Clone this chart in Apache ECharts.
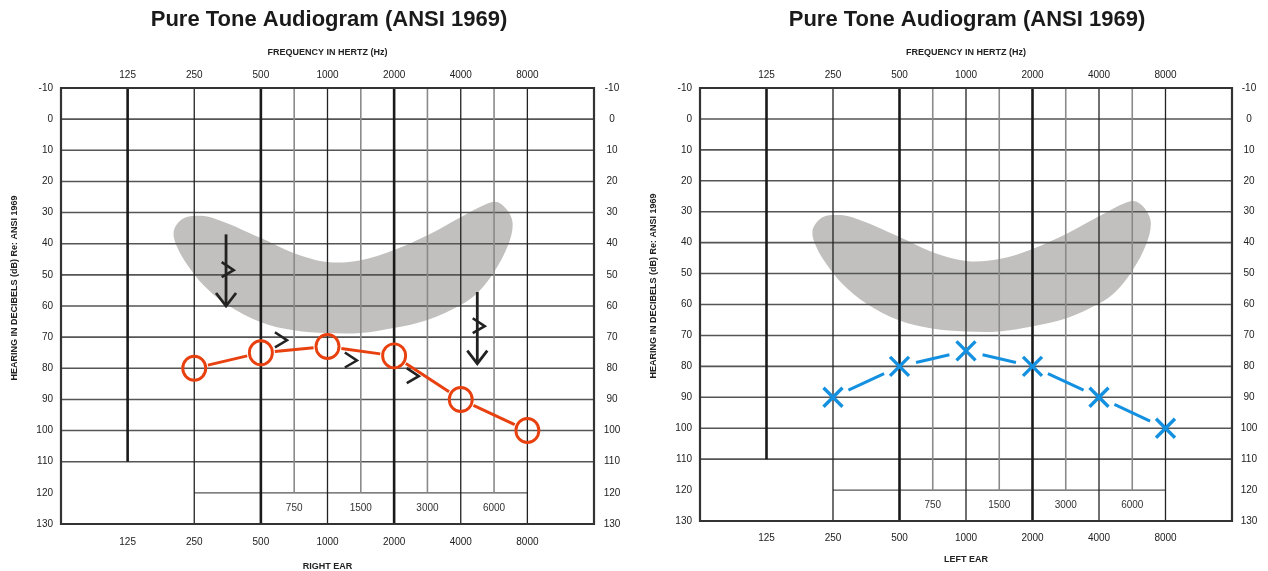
<!DOCTYPE html>
<html>
<head>
<meta charset="utf-8">
<script src="https://cdn.jsdelivr.net/npm/echarts@6/dist/echarts.min.js"></script>
<style>
html,body{margin:0;background:#fff}
#chart{width:1268px;height:571px}
</style>
</head>
<body>
<div id="chart"></div>
<script>
// axis structure
const freqs = [125, 250, 500, 1000, 2000, 4000, 8000];
const thickFreqs = [125, 500, 2000];
const halfFreqs = [750, 1500, 3000, 6000];
const dbTicks = [-10, 0, 10, 20, 30, 40, 50, 60, 70, 80, 90, 100, 110, 120, 130];

// right ear (air conduction, circles)
const rightFreqs = [250, 500, 1000, 2000, 4000, 8000];
const rightDb = [80, 75, 73, 76, 90, 100];
// left ear (air conduction, crosses)
const leftFreqs = [250, 500, 1000, 2000, 4000, 8000];
const leftDb = [90, 80, 75, 80, 90, 100];
// bone conduction ">" marks on the right ear chart
const boneFreqs = [354, 616, 1275, 2428, 4823];
const boneDb = [48.5, 71, 77.5, 82.5, 66.5];
// no response arrows
const arrowFreqs = [348, 4751];
const arrowTop = [37, 55.5];
const arrowBottom = [60, 78.5];

// speech banana outline (octaves above 125 Hz, dB)
const bananaOct = [0.69,0.80,0.99,1.29,2.00,2.49,3.00,3.50,3.99,4.50,5.00,5.41,5.56,5.72,5.78,5.71,5.50,5.26,5.00,4.50,3.99,3.50,3.00,2.49,2.00,1.50,1.14,0.90,0.75];
const bananaDb = [36.3,32.4,31.1,31.8,38.2,43.0,45.9,45.3,42.1,37.3,31.5,27.0,26.7,29.9,34.0,40.5,49.1,55.6,59.7,64.5,67.1,68.7,68.7,67.8,65.2,59.7,53.3,46.9,41.4];

const oct = f => Math.log2(f / 125);
// half octave lines sit midway between the octaves
const mid = f => oct(f / 1.5) + 0.5;

const FONT = '"Liberation Sans", Arial, sans-serif';
const RED = '#e8400e';
const BLUE = '#1490e0';

function seg(api, a, b, w, c) {
  const p = api.coord(a), q = api.coord(b);
  return {type: 'line', shape: {x1: p[0], y1: p[1], x2: q[0], y2: q[1]}, style: {stroke: c, lineWidth: w}};
}

function renderBanana(params, api) {
  const pts = bananaOct.map((o, i) => api.coord([o, bananaDb[i]]));
  return {type: 'polygon', shape: {points: pts, smooth: 0.35}, style: {fill: '#c1c0be'}};
}

function renderGrid(params, api) {
  const ch = [];
  dbTicks.forEach(d => {
    if (d > -10 && d <= 110) ch.push(seg(api, [-1, d], [7, d], 1.6, '#555'));
  });
  ch.push(seg(api, [oct(250), 120], [oct(8000), 120], 1.3, '#555'));
  halfFreqs.forEach(f => {
    ch.push(seg(api, [mid(f), -10], [mid(f), 120], 1.6, '#8a8a8a'));
    const p = api.coord([mid(f), 125]);
    ch.push({type: 'text', x: p[0], y: p[1], style: {text: String(f), textAlign: 'center', textVerticalAlign: 'middle', align: 'center', verticalAlign: 'middle', fontSize: 10, fontFamily: FONT, fill: '#333'}});
  });
  freqs.forEach(f => {
    const thick = thickFreqs.indexOf(f) >= 0;
    const bottom = f === 125 ? 110 : 130;
    ch.push(seg(api, [oct(f), -10], [oct(f), bottom], thick ? 2.6 : 1.3, thick ? '#1a1a1a' : '#222'));
  });
  const tl = api.coord([-1, -10]), br = api.coord([7, 130]);
  ch.push({type: 'rect', shape: {x: tl[0], y: tl[1], width: br[0] - tl[0], height: br[1] - tl[1]}, style: {fill: 'none', stroke: '#333', lineWidth: 2.2}});
  return {type: 'group', children: ch};
}

function renderLinks(xs, ys, gap, color) {
  return function (params, api) {
    const ch = [];
    for (let i = 0; i < xs.length - 1; i++) {
      const p = api.coord([oct(xs[i]), ys[i]]), q = api.coord([oct(xs[i + 1]), ys[i + 1]]);
      const dx = q[0] - p[0], dy = q[1] - p[1], len = Math.sqrt(dx * dx + dy * dy);
      const ux = dx / len, uy = dy / len;
      ch.push({type: 'line', shape: {x1: p[0] + ux * gap, y1: p[1] + uy * gap, x2: q[0] - ux * gap, y2: q[1] - uy * gap}, style: {stroke: color, lineWidth: 3}});
    }
    return {type: 'group', children: ch};
  };
}

function renderCircle(params, api) {
  const p = api.coord([api.value(0), api.value(1)]);
  return {type: 'ellipse', shape: {cx: p[0], cy: p[1], rx: 11.5, ry: 12}, style: {fill: 'none', stroke: RED, lineWidth: 2.9}};
}

function renderCross(params, api) {
  const p = api.coord([api.value(0), api.value(1)]), s = 9.5;
  return {type: 'group', children: [
    {type: 'line', shape: {x1: p[0] - s, y1: p[1] - s, x2: p[0] + s, y2: p[1] + s}, style: {stroke: BLUE, lineWidth: 3.4}},
    {type: 'line', shape: {x1: p[0] - s, y1: p[1] + s, x2: p[0] + s, y2: p[1] - s}, style: {stroke: BLUE, lineWidth: 3.4}}
  ]};
}

function renderBone(params, api) {
  const p = api.coord([api.value(0), api.value(1)]);
  return {type: 'polyline', shape: {points: [[p[0] - 6, p[1] - 8], [p[0] + 6, p[1]], [p[0] - 6, p[1] + 7]]}, style: {fill: 'none', stroke: '#222', lineWidth: 2.6}};
}

function renderArrows(params, api) {
  const ch = [];
  arrowFreqs.forEach((f, i) => {
    const a = api.coord([oct(f), arrowTop[i]]), b = api.coord([oct(f), arrowBottom[i]]);
    ch.push({type: 'line', shape: {x1: a[0], y1: a[1], x2: b[0], y2: b[1]}, style: {stroke: '#222', lineWidth: 2.8}});
    ch.push({type: 'polyline', shape: {points: [[b[0] - 10, b[1] - 13], [b[0], b[1]], [b[0] + 10, b[1] - 13]]}, style: {fill: 'none', stroke: '#222', lineWidth: 2.8}});
  });
  return {type: 'group', children: ch};
}

const labelStyle = {fontSize: 10, color: '#222', fontFamily: FONT};
const freqLabel = v => (v >= 0 && v <= 6) ? String(freqs[Math.round(v)]) : '';

function xAxes(gridIndex, bottomName, bottomMargin, nameGapBottom) {
  const base = {gridIndex, type: 'value', min: -1, max: 7, interval: 1, axisLine: {show: false}, axisTick: {show: false}, splitLine: {show: false}};
  return [
    Object.assign({}, base, {position: 'top', name: 'FREQUENCY IN HERTZ (Hz)', nameLocation: 'middle', nameGap: 31,
      nameTextStyle: {fontSize: 9, fontWeight: 'bold', color: '#222', fontFamily: FONT},
      axisLabel: Object.assign({margin: 8, formatter: freqLabel}, labelStyle)}),
    Object.assign({}, base, {position: 'bottom', name: bottomName, nameLocation: 'middle', nameGap: nameGapBottom,
      nameTextStyle: {fontSize: 9, fontWeight: 'bold', color: '#222', fontFamily: FONT},
      axisLabel: Object.assign({margin: bottomMargin, formatter: freqLabel}, labelStyle)})
  ];
}

function yAxes(gridIndex, rightMargin) {
  const base = {gridIndex, type: 'value', inverse: true, min: -10, max: 130, interval: 10, axisLine: {show: false}, axisTick: {show: false}, splitLine: {show: false}};
  return [
    Object.assign({}, base, {position: 'left', axisLabel: Object.assign({margin: 8}, labelStyle)}),
    Object.assign({}, base, {position: 'right', axisLabel: Object.assign({margin: rightMargin, align: 'center'}, labelStyle)})
  ];
}

function earSeries(g, xs, ys, gap, color, markerFn) {
  return [
    {type: 'custom', xAxisIndex: 2 * g, yAxisIndex: 2 * g, z: 1, clip: false, silent: true, renderItem: renderBanana, data: [[0, 0]]},
    {type: 'custom', xAxisIndex: 2 * g, yAxisIndex: 2 * g, z: 2, clip: false, silent: true, renderItem: renderGrid, data: [[0, 0]]},
    {type: 'custom', xAxisIndex: 2 * g, yAxisIndex: 2 * g, z: 3, clip: false, silent: true, renderItem: renderLinks(xs, ys, gap, color), data: [[0, 0]]},
    {type: 'custom', xAxisIndex: 2 * g, yAxisIndex: 2 * g, z: 4, clip: false, silent: true, renderItem: markerFn,
      data: xs.map((f, i) => [oct(f), ys[i]])}
  ];
}

const titleText = 'Pure Tone Audiogram (ANSI 1969)';
const yName = 'HEARING IN DECIBELS (dB) Re: ANSI 1969';

const chart = echarts.init(document.getElementById('chart'));
chart.setOption({
  animation: false,
  grid: [
    {left: 61, top: 88, width: 533, height: 436, outerBoundsMode: 'none', containLabel: false},
    {left: 700, top: 88, width: 532, height: 433, outerBoundsMode: 'none', containLabel: false}
  ],
  xAxis: xAxes(0, 'RIGHT EAR', 13, 38).concat(xAxes(1, 'LEFT EAR', 12, 34)),
  yAxis: yAxes(0, 18).concat(yAxes(1, 17)),
  graphic: [
    {type: 'text', x: 329, y: 20, style: {text: titleText, textAlign: 'center', textVerticalAlign: 'middle', align: 'center', verticalAlign: 'middle', font: 'bold 22px ' + FONT, fill: '#1a1a1a'}},
    {type: 'text', x: 967, y: 20, style: {text: titleText, textAlign: 'center', textVerticalAlign: 'middle', align: 'center', verticalAlign: 'middle', font: 'bold 22px ' + FONT, fill: '#1a1a1a'}},
    {type: 'text', x: 15, y: 288, rotation: Math.PI / 2, style: {text: yName, textAlign: 'center', textVerticalAlign: 'middle', align: 'center', verticalAlign: 'middle', font: 'bold 9px ' + FONT, fill: '#222'}},
    {type: 'text', x: 654, y: 286, rotation: Math.PI / 2, style: {text: yName, textAlign: 'center', textVerticalAlign: 'middle', align: 'center', verticalAlign: 'middle', font: 'bold 9px ' + FONT, fill: '#222'}}
  ],
  series: earSeries(0, rightFreqs, rightDb, 14, RED, renderCircle)
    .concat(earSeries(1, leftFreqs, leftDb, 17, BLUE, renderCross))
    .concat([
      {type: 'custom', xAxisIndex: 0, yAxisIndex: 0, z: 4, clip: false, silent: true, renderItem: renderBone,
        data: boneFreqs.map((f, i) => [oct(f), boneDb[i]])},
      {type: 'custom', xAxisIndex: 0, yAxisIndex: 0, z: 4, clip: false, silent: true, renderItem: renderArrows, data: [[0, 0]]}
    ])
});
</script>
</body>
</html>
